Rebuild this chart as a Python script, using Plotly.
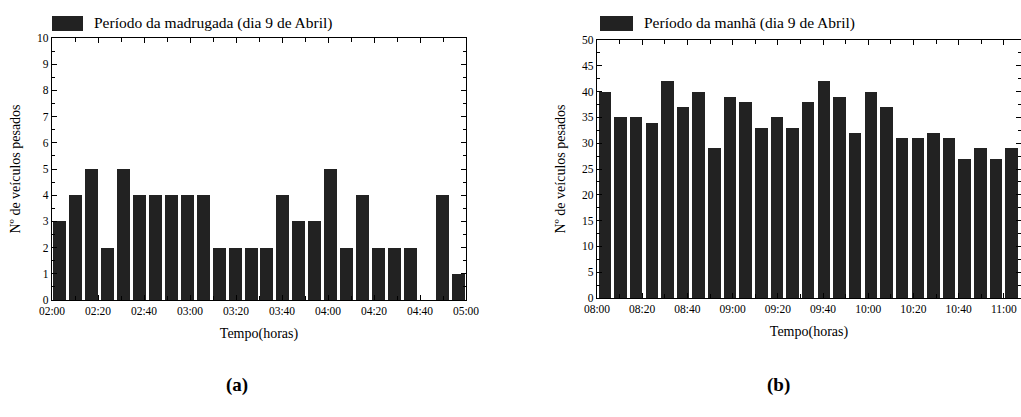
import plotly.graph_objects as go

# Heavy-vehicle counts per interval
madrugada = [3, 4, 5, 2, 5, 4, 4, 4, 4, 4, 2, 2, 2, 2, 4, 3, 3, 5, 2, 4, 2, 2, 2, 0, 4, 1]
manha = [40, 35, 35, 34, 42, 37, 40, 29, 39, 38, 33, 35, 33, 38, 42, 39, 32, 40, 37,
         31, 31, 32, 31, 27, 29, 27, 29]

ticks_madrugada = ["02:00", "02:20", "02:40", "03:00", "03:20", "03:40", "04:00",
                   "04:20", "04:40", "05:00"]
ticks_manha = ["08:00", "08:20", "08:40", "09:00", "09:20", "09:40", "10:00",
               "10:20", "10:40", "11:00"]

legend_a = "Período da madrugada (dia 9 de Abril)"
legend_b = "Período da manhã (dia 9 de Abril)"

W, H = 1021, 417
FONT = "Liberation Serif"
BAR = "#222222"

# minutes covered by each bar (26 bars over 3 hours)
step = 180 / 26


def centres(n):
    return [(i + 0.5) * step for i in range(n)]


fig = go.Figure()
fig.add_trace(go.Bar(x=centres(len(madrugada)), y=madrugada, width=step * 0.82,
                     marker=dict(color=BAR, line=dict(width=0)),
                     xaxis="x", yaxis="y", showlegend=False))
fig.add_trace(go.Bar(x=centres(len(manha)), y=manha, width=step * 0.8,
                     marker=dict(color=BAR, line=dict(width=0)),
                     xaxis="x2", yaxis="y2", showlegend=False))


def px(v):
    return v / W


def py(v):
    return 1 - v / H


axis_common = dict(showline=True, linecolor="black", linewidth=1.2, mirror="allticks",
                   ticks="inside", ticklen=5, tickcolor="black", showgrid=False,
                   zeroline=False, automargin=False,
                   tickfont=dict(family=FONT, size=11.5, color="black"))
title_font = dict(family=FONT, size=14, color="black")

fig.update_layout(
    width=W, height=H, margin=dict(l=0, r=0, t=0, b=0, pad=0, autoexpand=False),
    paper_bgcolor="white", plot_bgcolor="white", bargap=0,
    font=dict(family=FONT, color="black"),
    xaxis=dict(domain=[px(52), px(466)], range=[0, 180],
               tickvals=list(range(0, 181, 20)), ticktext=ticks_madrugada,
               minor=dict(dtick=10, tick0=0, ticks="inside", ticklen=4, tickcolor="black"),
               title=dict(text="Tempo(horas)", font=title_font, standoff=12),
               anchor="y", **axis_common),
    yaxis=dict(domain=[py(300), py(38)], range=[0, 10], dtick=1,
               minor=dict(dtick=0.5, ticks="inside", ticklen=3, tickcolor="black"),
               title=dict(text="Nº de veículos pesados", font=title_font, standoff=13),
               anchor="x", **axis_common),
    xaxis2=dict(domain=[px(597), 1.0], range=[0, 187.6],
                tickvals=list(range(0, 181, 20)), ticktext=ticks_manha,
                minor=dict(dtick=10, tick0=0, ticks="inside", ticklen=4, tickcolor="black"),
                title=dict(text="Tempo(horas)", font=title_font, standoff=12),
                anchor="y2", **axis_common),
    yaxis2=dict(domain=[py(298), py(40)], range=[0, 50], dtick=5,
                minor=dict(dtick=2.5, ticks="inside", ticklen=3, tickcolor="black"),
                title=dict(text="Nº de veículos pesados", font=title_font, standoff=13),
                anchor="x2", **axis_common),
)

# legend swatches and labels above each panel
for x0, x1, label in [(52, 83, legend_a), (600, 633, legend_b)]:
    fig.add_shape(type="rect", xref="paper", yref="paper",
                  x0=px(x0), x1=px(x1), y0=py(31), y1=py(16),
                  fillcolor=BAR, line=dict(width=0))
    fig.add_annotation(xref="paper", yref="paper", x=px(x1 + 9), y=py(23.5),
                       xanchor="left", yanchor="middle", showarrow=False,
                       text=label, font=dict(family=FONT, size=15.5, color="black"))

# panel letters
for xc, letter in [(237, "(a)"), (778, "(b)")]:
    fig.add_annotation(xref="paper", yref="paper", x=px(xc), y=py(385),
                       xanchor="center", yanchor="middle", showarrow=False,
                       text="<b>" + letter + "</b>",
                       font=dict(family=FONT, size=19, color="black"))

fig.write_html("out.html")
